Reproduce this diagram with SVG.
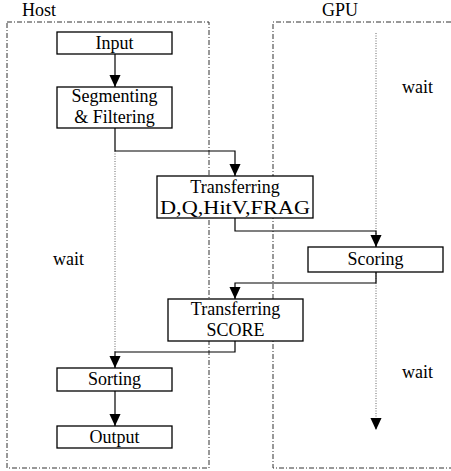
<svg xmlns="http://www.w3.org/2000/svg" width="451" height="471" viewBox="0 0 451 471">
<style>
text{font-family:"Liberation Serif","Times New Roman",serif;font-size:18px;fill:#000}
.box{fill:#fff;stroke:#000;stroke-width:1.3}
.lane{fill:none;stroke:#333;stroke-width:1;stroke-dasharray:5 2 1 2}
.wire{fill:none;stroke:#000;stroke-width:1.2}
.dots{fill:none;stroke:#666;stroke-width:1;stroke-dasharray:1 1.5}
</style>
<defs>
<marker id="ah" markerWidth="12" markerHeight="13" viewBox="0 0 13 12" refX="13" refY="6" orient="auto" markerUnits="userSpaceOnUse">
<path d="M0,0 L13,6 L0,12 Z" fill="#000"/>
</marker>
</defs>
<rect width="451" height="471" fill="#fff"/>
<g id="lanes">
<rect class="lane" x="7" y="22" width="202" height="446"/>
<path class="lane" d="M451,22 H273 V468 H451"/>
<text x="22" y="16">Host</text>
<text x="322" y="16">GPU</text>
</g>
<g id="waits">
<path class="dots" d="M115,151 V352"/>
<path class="dots" d="M376,33 V430" marker-end="url(#ah)"/>
<text x="402" y="93">wait</text>
<text x="53" y="265">wait</text>
<text x="402" y="378">wait</text>
</g>
<g id="connectors">
<path class="wire" d="M115,54 V87" marker-end="url(#ah)"/>
<path class="wire" d="M115,128 V151 H235 V176" marker-end="url(#ah)"/>
<path class="wire" d="M235,218 V231 H376 V247" marker-end="url(#ah)"/>
<path class="wire" d="M376,272 V283 H235 V299" marker-end="url(#ah)"/>
<path class="wire" d="M235,341 V352 H115 V368" marker-end="url(#ah)"/>
<path class="wire" d="M115,391 V426" marker-end="url(#ah)"/>
</g>
<g id="input">
<rect class="box" x="57" y="32" width="115" height="22"/>
<text x="114.5" y="49" text-anchor="middle">Input</text>
</g>
<g id="segmenting">
<rect class="box" x="57" y="87" width="115" height="41"/>
<text x="114.5" y="102" text-anchor="middle">Segmenting</text>
<text x="114.5" y="123" text-anchor="middle">&amp; Filtering</text>
</g>
<g id="transfer1">
<rect class="box" x="157" y="176" width="156" height="42"/>
<text x="235" y="193" text-anchor="middle">Transferring</text>
<text x="160" y="214" font-size="19" textLength="150" lengthAdjust="spacingAndGlyphs">D,Q,HitV,FRAG</text>
</g>
<g id="scoring">
<rect class="box" x="308" y="247" width="135" height="25"/>
<text x="375.5" y="265" text-anchor="middle">Scoring</text>
</g>
<g id="transfer2">
<rect class="box" x="168" y="299" width="135" height="42"/>
<text x="235.5" y="315" text-anchor="middle">Transferring</text>
<text x="235.5" y="336" text-anchor="middle">SCORE</text>
</g>
<g id="sorting">
<rect class="box" x="57" y="368" width="115" height="23"/>
<text x="114.5" y="385" text-anchor="middle">Sorting</text>
</g>
<g id="output">
<rect class="box" x="57" y="426" width="115" height="22"/>
<text x="114.5" y="443" text-anchor="middle">Output</text>
</g>
</svg>
